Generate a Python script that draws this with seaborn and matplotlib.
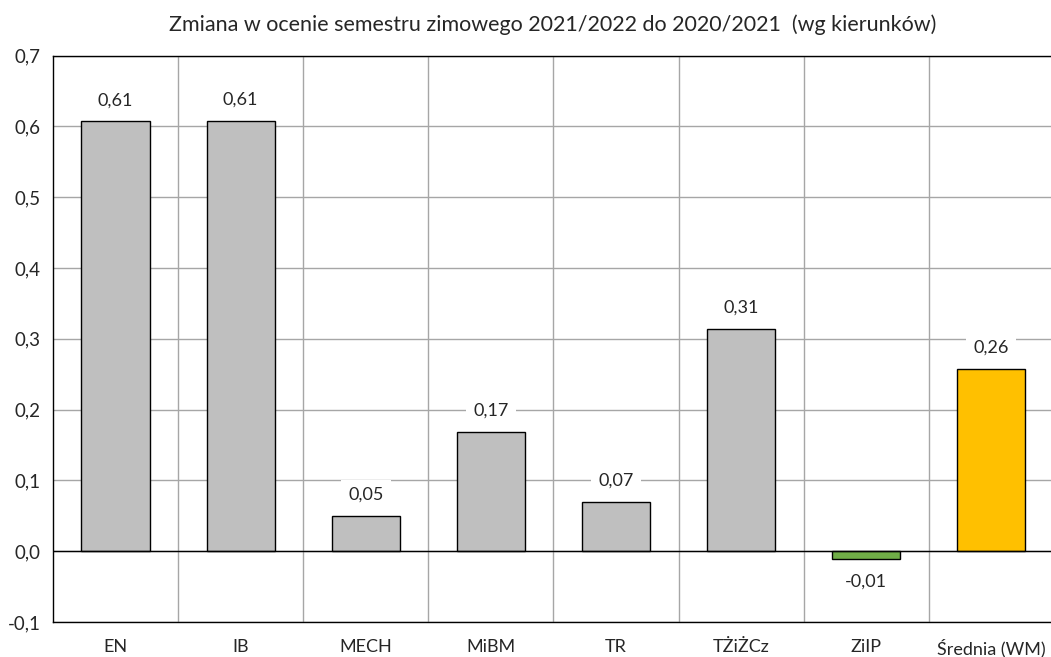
import matplotlib
matplotlib.use('Agg')
import matplotlib.pyplot as plt
import seaborn as sns
import numpy as np

# Data
categories = ['EN', 'IB', 'MECH', 'MiBM', 'TR', 'TŻiŻCz', 'ZiIP', 'Średnia (WM)']
values = [0.607, 0.608, 0.050, 0.169, 0.070, 0.314, -0.011, 0.258]
bar_colors = ['#BFBFBF', '#BFBFBF', '#BFBFBF', '#BFBFBF', '#BFBFBF', '#BFBFBF', '#70AD47', '#FFC000']
y_ticks = [-0.1, 0.0, 0.1, 0.2, 0.3, 0.4, 0.5, 0.6, 0.7]
title = 'Zmiana w ocenie semestru zimowego 2021/2022 do 2020/2021  (wg kierunków)'

sns.set_style('white')
plt.rcParams['font.family'] = ['Lato', 'DejaVu Sans']

fig = plt.figure(figsize=(10.51, 6.57), dpi=100)
ax = fig.add_axes([0.0504, 0.0533, 0.9524, 0.862])

sns.barplot(x=categories, y=values, hue=categories, palette=bar_colors, legend=False,
            width=0.545, edgecolor='black', linewidth=1, saturation=1, ax=ax, zorder=3)

ax.set_ylim(-0.1, 0.7)
ax.set_xlim(-0.5, len(categories) - 0.5)
ax.set_yticks(y_ticks)
ax.set_yticklabels([f'{t:.1f}'.replace('.', ',') for t in y_ticks], fontsize=13.5)
ax.tick_params(axis='x', labelsize=13, length=0, pad=12)
ax.tick_params(axis='y', length=0, pad=9)

# grid: horizontal at ticks, vertical between categories
for t in y_ticks:
    ax.axhline(t, color='#A6A6A6', lw=1, zorder=1)
for i in range(len(categories) - 1):
    ax.axvline(i + 0.5, color='#A6A6A6', lw=1, zorder=1)
ax.axhline(0, color='black', lw=1, zorder=4)

for s in ax.spines.values():
    s.set_color('black')
    s.set_linewidth(1)

# value labels
for i, v in enumerate(values):
    txt = f'{v:.2f}'.replace('.', ',')
    off = 15 if v >= 0 else -16.5
    ax.annotate(txt, (i, v), xytext=(0, off), textcoords='offset points',
                ha='center', va='center', fontsize=13, zorder=5,
                bbox=dict(boxstyle='square,pad=0.4', fc='white', ec='none'))

ax.set_xlabel('')
ax.set_ylabel('')
fig.text(0.526, 0.962, title, ha='center', va='center', fontsize=15.5)

fig.savefig('out.png', dpi=100)
